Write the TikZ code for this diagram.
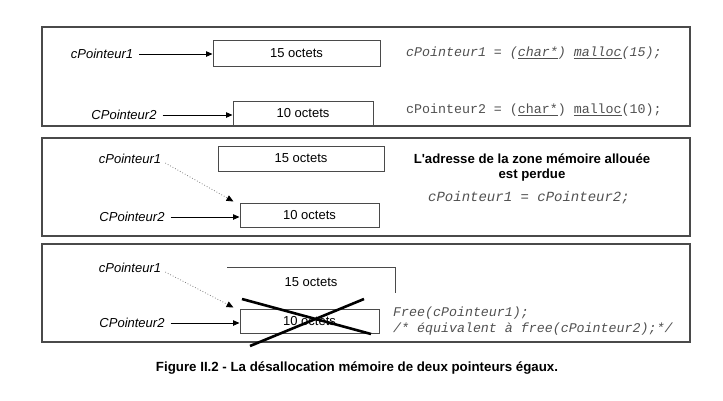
\documentclass[tikz,border=0pt]{standalone}
\usepackage{fontspec}
\setmainfont{Liberation Sans}
\setmonofont{Liberation Mono}
\usetikzlibrary{arrows.meta}
\definecolor{frame}{HTML}{4A4A4A}
\definecolor{codegray}{HTML}{505050}
\tikzset{
  panel/.style={draw=frame, line width=1.2pt},
  membox/.style={draw=frame, line width=1pt, inner sep=0pt, font=\fontsize{13}{15}\selectfont},
  ptr/.style={inner sep=0pt, font=\fontsize{13}{15}\selectfont\itshape},
  ptrarrow/.style={draw=black, line width=0.8pt, -{Triangle[length=6.5pt,width=5.5pt]}},
  dotarrow/.style={draw=gray, line width=0.8pt, dotted, -{Triangle[length=7pt,width=6pt,fill=black,color=black]}},
  code/.style={inner sep=0pt, anchor=west, text=codegray, font=\fontsize{13.3}{16}\ttfamily},
  cross/.style={draw=black, line width=2.6pt},
}
\begin{document}
\begin{tikzpicture}[x=1pt,y=-1pt]
\useasboundingbox (0,0) rectangle (723,400);
% panels
\draw[panel] (42,27) rectangle (690,126);
\draw[panel] (42,138) rectangle (690,236);
\draw[panel] (42,244) rectangle (690,342);

% ---------- panel 1
\node[membox, minimum width=167pt, minimum height=26pt] (b1a) at (296.5,53) {15 octets};
\node[membox, minimum width=140pt, minimum height=25pt] (b1b) at (303,113.5) {10 octets};
\node[ptr] (p1a) at (102,54) {cPointeur1};
\node[ptr] (p1b) at (124,115) {CPointeur2};
\draw[ptrarrow, shorten <=6pt] (p1a.east) -- (p1a.east -| b1a.west);
\draw[ptrarrow, shorten <=6pt] (p1b.east) -- (p1b.east -| b1b.west);
\node[code] (c1a) at (406,53) {\itshape cPointeur1 = (\underline{char*}) \underline{malloc}(15);};
\node[code] (c1b) at (406,110) {cPointeur2 = (\underline{char*}) \underline{malloc}(10);};

% ---------- panel 2
\node[membox, minimum width=166pt, minimum height=25pt] (b2a) at (301,158.5) {15 octets};
\node[membox, minimum width=139pt, minimum height=24pt] (b2b) at (309.5,215) {10 octets};
\node[ptr] (p2a) at (130,159) {cPointeur1};
\node[ptr] (p2b) at (132,217) {CPointeur2};
\draw[ptrarrow, shorten <=6pt] (p2b.east) -- (p2b.east -| b2b.west);
\draw[dotarrow] ([shift={(4pt,-4pt)}]p2a.east) -- ([shift={(-6pt,1pt)}]b2b.north west);
\node[align=center, inner sep=0pt, font=\fontsize{13.2}{15}\selectfont\bfseries] (t2) at (532,168)
  {L\textquotesingle adresse de la zone mémoire allouée\\est perdue};
\node[code, anchor=center, font=\fontsize{14}{16}\ttfamily\itshape] (c2) at (529,198) {cPointeur1 = cPointeur2;};

% ---------- panel 3
\coordinate (f3a) at (227,267);
\coordinate (f3b) at (395,267);
\coordinate (f3c) at (395,293);
\draw[draw=frame, line width=0.7pt] (f3a) -- (f3b) -- (f3c);
\node[inner sep=0pt, font=\fontsize{13}{15}\selectfont] (t3) at (311,282) {15 octets};
\node[membox, minimum width=139pt, minimum height=24pt] (b3b) at (309.5,321) {10 octets};
\node[ptr] (p3a) at (130,268) {cPointeur1};
\node[ptr] (p3b) at (132,323) {CPointeur2};
\draw[ptrarrow, shorten <=6pt] (p3b.east) -- (p3b.east -| b3b.west);
\draw[dotarrow] ([shift={(4pt,-4pt)}]p3a.east) -- ([shift={(-6pt,1pt)}]b3b.north west);
\draw[cross] (242,299) -- (371,334);
\draw[cross] (364,299) -- (250,346);
\node[code, font=\fontsize{13.3}{16}\ttfamily\itshape] (c3a) at (393,313) {Free(cPointeur1);};
\node[code, font=\fontsize{13.3}{16}\ttfamily\itshape] (c3b) at (393,329) {/* équivalent à free(cPointeur2);*/};

% caption
\node[inner sep=0pt, font=\fontsize{13.3}{15}\selectfont\bfseries] (cap) at (357,368)
  {Figure II.2 - La désallocation mémoire de deux pointeurs égaux.};
\end{tikzpicture}
\end{document}
